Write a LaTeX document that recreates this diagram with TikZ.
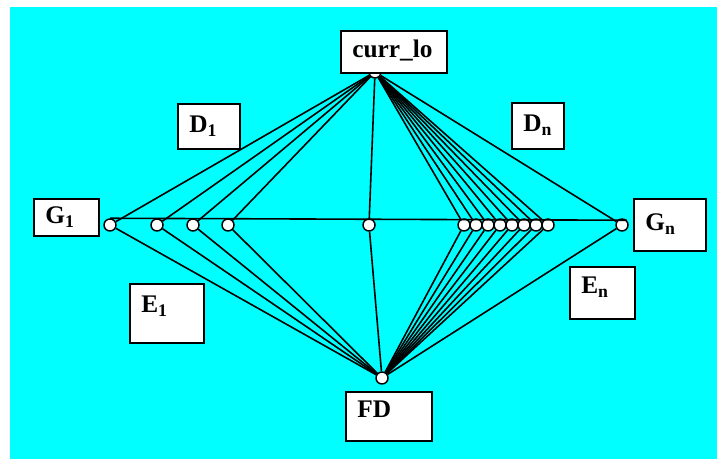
\documentclass[tikz,border=0pt]{standalone}
\usepackage{fontspec}
\setmainfont{Liberation Serif}
\definecolor{bgcyan}{RGB}{0,255,255}

\begin{document}
\begin{tikzpicture}[x=0.75pt,y=-0.75pt,
  box/.style={draw,fill=white,line width=1.5pt,align=left,inner xsep=8.5pt,
    inner ysep=0pt,text height=13pt,text depth=4pt,anchor=north west,
    font=\fontsize{19}{22}\selectfont\bfseries},
  port/.style={circle,draw,fill=white,line width=1.1pt,minimum size=9pt,inner sep=0pt},
  wire/.style={line width=1.2pt}]

% Background
\useasboundingbox (0,0) rectangle (717,459);
\fill[bgcyan] (10,7) rectangle (717,459);

% Ports
\node[port] (top) at (375,72) {};
\node[port] (bot) at (382,378) {};
\node[port] (g1) at (110,225) {};
\foreach \x [count=\i] in {157,193,228}
  \node[port] (l\i) at (\x,225) {};
\node[port] (mid) at (369,225) {};
\foreach \i in {1,...,8}
  \node[port] (r\i) at ({452+12*\i},225) {};
\node[port] (gn) at (622,225) {};

% Bus
\draw[wire] (g1.north) -- (gn.north east);

% Links up and down
\foreach \n in {g1,l1,l2,l3,mid,r1,r2,r3,r4,r5,r6,r7,r8,gn}
{
  \draw[wire] (top) -- (\n);
  \draw[wire] (\n) -- (bot);
}

% Boxes
\node[box,text width=62.5pt,minimum height=31.5pt] (curr) at (340,30) {curr\_lo};
\node[box,text width=29.5pt,minimum height=33.75pt] (d1) at (177,103) {D\textsubscript{1}};
\node[box,text width=22pt,minimum height=34.5pt] (dn) at (511,102) {D\textsubscript{n}};
\node[box,text width=31.75pt,minimum height=27.75pt] (G1) at (33,198) {G\textsubscript{1}};
\node[box,text width=37pt,minimum height=39pt] (Gn) at (633,198) {G\textsubscript{n}};
\node[box,text width=38.5pt,minimum height=44.25pt,text depth=14.5pt] (e1) at (129,283) {E\textsubscript{1}};
\node[box,text width=31.75pt,minimum height=39pt,text depth=11.5pt] (en) at (569,266) {E\textsubscript{n}};
\node[box,text width=47.5pt,minimum height=36.75pt,text depth=11.5pt] (fd) at (345,391) {FD};

\end{tikzpicture}
\end{document}
